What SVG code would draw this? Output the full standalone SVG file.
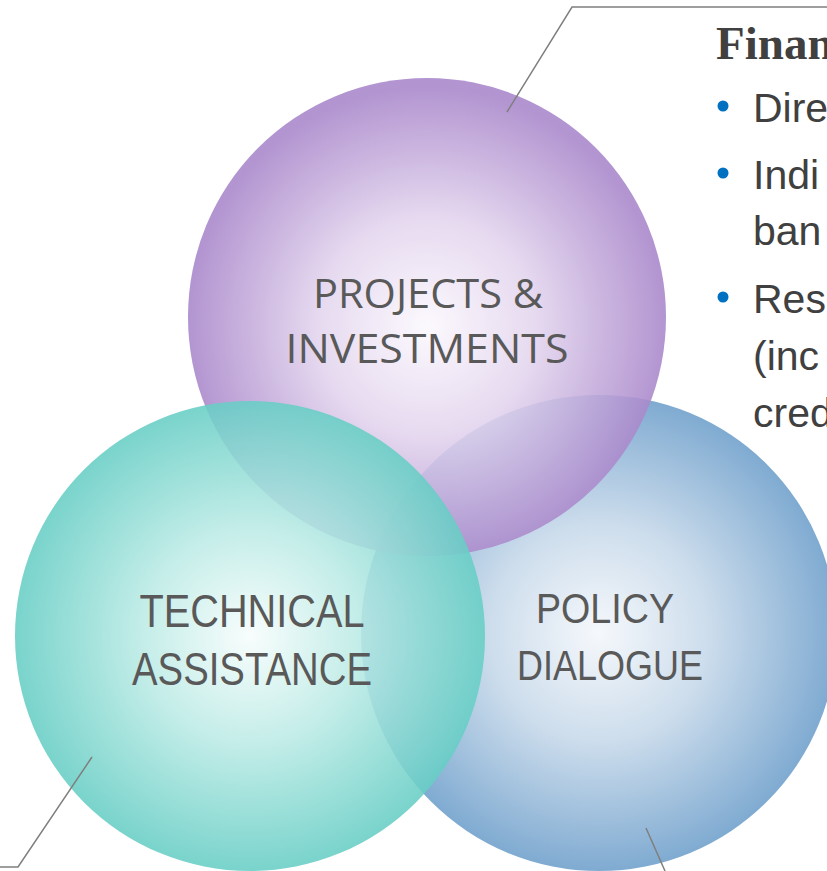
<svg xmlns="http://www.w3.org/2000/svg" width="827" height="871" viewBox="0 0 827 871">
  <defs>
    <radialGradient id="gPurple" cx="0.5" cy="0.52" r="0.5">
      <stop offset="0" stop-color="#FBF8FD"/>
      <stop offset="0.45" stop-color="#E3D5EE"/>
      <stop offset="1" stop-color="#A886CA"/>
    </radialGradient>
    <radialGradient id="gTeal" cx="0.5" cy="0.5" r="0.5">
      <stop offset="0" stop-color="#F7FDFC"/>
      <stop offset="0.45" stop-color="#BDEBE6"/>
      <stop offset="1" stop-color="#67CEC5"/>
    </radialGradient>
    <radialGradient id="gBlue" cx="0.5" cy="0.5" r="0.5">
      <stop offset="0" stop-color="#F4F7FB"/>
      <stop offset="0.45" stop-color="#C7D9EA"/>
      <stop offset="1" stop-color="#6E9FCB"/>
    </radialGradient>
  </defs>
  <style>
    .circ { opacity: 0.88; }
    .lbl { font-family: "Liberation Sans", Arial, sans-serif; fill: #595959; text-anchor: middle; }
    .lbl2 { font-family: "Open Sans", "Liberation Sans", sans-serif; fill: #595959; text-anchor: middle; }
    .conn { fill: none; stroke: #7F7F7F; stroke-width: 1.5; }
    .body { font-family: "Liberation Sans", Arial, sans-serif; font-size: 41px; fill: #404040; }
    .head { font-family: "Liberation Serif", "Times New Roman", serif; font-weight: bold; font-size: 47px; fill: #404040; }
    .dot { fill: #0070C0; }
  </style>

  <!-- Venn circles: blue at the bottom, purple over it, teal on top -->
  <g id="policy">
    <circle class="circ" cx="599" cy="633" r="238" fill="url(#gBlue)"/>
  </g>
  <g id="projects">
    <circle class="circ" cx="427" cy="317" r="239" fill="url(#gPurple)"/>
  </g>
  <g id="technical">
    <circle class="circ" cx="250" cy="636" r="235" fill="url(#gTeal)"/>
  </g>

  <!-- circle labels -->
  <g id="projects-label">
    <text class="lbl2" x="428" y="308" font-size="41" textLength="230" lengthAdjust="spacingAndGlyphs">PROJECTS &amp;</text>
    <text class="lbl2" x="427" y="363" font-size="41" textLength="283" lengthAdjust="spacingAndGlyphs">INVESTMENTS</text>
  </g>
  <g id="technical-label">
    <text class="lbl" x="252" y="627" font-size="47" textLength="225" lengthAdjust="spacingAndGlyphs">TECHNICAL</text>
    <text class="lbl" x="252" y="685" font-size="47" textLength="240" lengthAdjust="spacingAndGlyphs">ASSISTANCE</text>
  </g>
  <g id="policy-label">
    <text class="lbl" x="605" y="623" font-size="43" textLength="138" lengthAdjust="spacingAndGlyphs">POLICY</text>
    <text class="lbl" x="610" y="680" font-size="43" textLength="186" lengthAdjust="spacingAndGlyphs">DIALOGUE</text>
  </g>

  <!-- callout lines -->
  <g id="connectors">
    <polyline class="conn" points="507,112 572,7 827,7"/>
    <polyline class="conn" points="92,757 18,867 0,867"/>
    <polyline class="conn" points="646,828 665,871"/>
  </g>

  <!-- financing callout text -->
  <g id="financing">
    <text class="head" x="716" y="59">Finan</text>
    <circle class="dot" cx="723" cy="106" r="5.5"/>
    <text class="body" x="753" y="122">Dire</text>
    <circle class="dot" cx="723" cy="173" r="5.5"/>
    <text class="body" x="753" y="189">Indi</text>
    <text class="body" x="753" y="245">ban</text>
    <circle class="dot" cx="723" cy="297" r="5.5"/>
    <text class="body" x="753" y="313">Res</text>
    <text class="body" x="753" y="370">(inc</text>
    <text class="body" x="753" y="427">cred</text>
  </g>
</svg>
